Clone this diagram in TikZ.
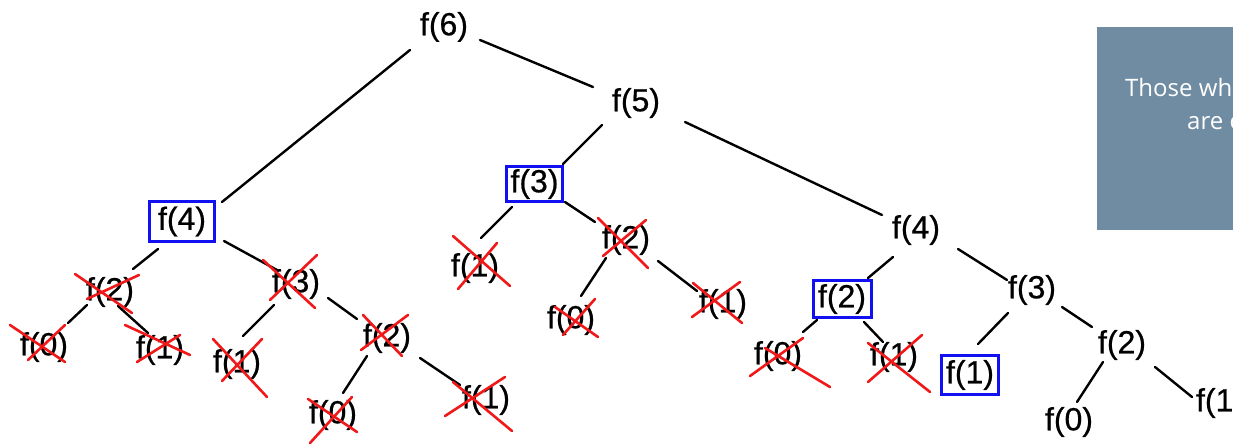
\documentclass[tikz,border=0pt]{standalone}
\usepackage{fontspec}
\setmainfont{Liberation Sans}
\newfontfamily\fnfont{Liberation Sans}[FakeBold=0.6]
\newfontfamily\notefont{Open Sans}
\definecolor{slate}{RGB}{112,140,162}
\definecolor{xred}{RGB}{240,24,24}
\definecolor{bblue}{RGB}{16,16,240}
\newcommand{\drawcross}[9]{%
  \draw[cross] ([shift={(#2,#3)}]#1.center) -- ([shift={(#4,#5)}]#1.center)
               ([shift={(#6,#7)}]#1.center) -- ([shift={(#8,#9)}]#1.center);}
\newcommand{\link}[6]{%
  \draw[edge] ([shift={(#2,#3)}]#1.center) -- ([shift={(#5,#6)}]#4.center);}
\begin{document}
\begin{tikzpicture}[x=1pt,y=-1pt,
  fn/.style={font=\fnfont\fontsize{32}{36}\selectfont, inner sep=0pt},
  boxed/.style={fn, draw=bblue, line width=3pt},
  edge/.style={line width=2.4pt, line cap=round},
  cross/.style={draw=xred, line width=2.6pt, line cap=round},
  notetext/.style={font=\notefont\fontsize{24}{28}\selectfont, text=white, inner sep=0pt, anchor=base west}]
\useasboundingbox (0,0) rectangle (1233,446);
\clip (0,0) rectangle (1233,446);
\fill[white] (0,0) rectangle (1233,446);

% note panel
\node[fill=slate, anchor=north west, minimum width=150pt, minimum height=203pt, inner sep=0pt] (note) at (1097,27) {};
\node[notetext] (l1) at (1125,97) {Those wh};
\node[notetext] (l2) at (1187,130) {are c};

% nodes
\node[fn] (f6) at (444,27) {f(6)};
\node[fn] (f5) at (636,103) {f(5)};
\node[boxed, minimum width=65pt, minimum height=40pt] (f4L) at (182,221.5) {f(4)};
\node[boxed, minimum width=56pt, minimum height=35pt] (f3M) at (534.5,184) {f(3)};
\node[fn] (f4R) at (916,230) {f(4)};
\node[fn] (f2L) at (110,292) {f(2)};
\node[fn] (f3L) at (296,284) {f(3)};
\node[fn] (f0a) at (44,347) {f(0)};
\node[fn] (f1a) at (160,350) {f(1)};
\node[fn] (f1b) at (237,364) {f(1)};
\node[fn] (f2b) at (387,338) {f(2)};
\node[fn] (f0b) at (333,415) {f(0)};
\node[fn] (f1c) at (486,400) {f(1)};
\node[fn] (f1d) at (475,268) {f(1)};
\node[fn] (f2c) at (626,240) {f(2)};
\node[fn] (f0c) at (571,320) {f(0)};
\node[fn] (f1e) at (723,304) {f(1)};
\node[boxed, minimum width=58pt, minimum height=37pt] (f2R) at (842,299) {f(2)};
\node[fn] (f3R) at (1032,290) {f(3)};
\node[fn] (f0f) at (778,356) {f(0)};
\node[fn] (f1f) at (894,357) {f(1)};
\node[boxed, minimum width=57pt, minimum height=39pt] (f1R) at (970,375) {f(1)};
\node[fn] (f2S) at (1122,345) {f(2)};
\node[fn] (f0g) at (1069,422) {f(0)};
\node[fn] (f1g) at (1220,403) {f(1)};

% connectors
\link{f6}{36}{13}{f5}{-43}{-16}
\link{f6}{-34}{23}{f4L}{40}{-19.5}
\link{f5}{-34}{22}{f3M}{28.5}{-20}
\link{f5}{49}{19}{f4R}{-34}{-15}
\link{f4L}{-24}{27.5}{f2L}{23}{-23}
\link{f4L}{42}{19.5}{f3L}{-19}{-14}
\link{f2L}{-23}{13}{f0a}{24}{-24}
\link{f2L}{8}{14}{f1a}{-12}{-17}
\link{f3L}{-22}{21}{f1b}{6}{-28}
\link{f3L}{32}{14}{f2b}{-30}{-19}
\link{f2b}{-20}{18}{f0b}{10}{-22}
\link{f2b}{33}{20}{f1c}{-26}{-15}
\link{f3M}{-22.5}{23}{f1d}{6}{-30}
\link{f3M}{30.5}{18}{f2c}{-31}{-18}
\link{f2c}{-20}{18}{f0c}{10}{-24}
\link{f2c}{32}{21}{f1e}{-26}{-13}
\link{f4R}{-23}{27}{f2R}{26}{-21}
\link{f4R}{42}{19}{f3R}{-25}{-10}
\link{f2R}{-25}{21}{f0f}{25}{-24}
\link{f2R}{22}{23}{f1f}{-11}{-15}
\link{f3R}{-24}{23}{f1R}{8}{-31}
\link{f3R}{30}{17}{f2S}{-30}{-18}
\link{f2S}{-19}{17}{f0g}{8}{-20}
\link{f2S}{33}{22}{f1g}{-28}{-6}

% crosses
\drawcross{f2L}{-35}{-18}{22}{21}{-23}{7}{29}{-17}
\drawcross{f0a}{-34}{-22}{21}{15}{-16}{13}{21}{-22}
\drawcross{f1a}{-35}{-25}{30}{5}{-23}{12}{20}{-15}
\drawcross{f3L}{-33}{-24}{19}{24}{-26}{16}{21}{-29}
\drawcross{f1b}{-24}{-25}{30}{33}{-15}{17}{25}{-25}
\drawcross{f2b}{-24}{-23}{15}{18}{-26}{12}{21}{-23}
\drawcross{f0b}{-25}{-16}{24}{17}{-23}{28}{19}{-18}
\drawcross{f1c}{-33}{-18}{26}{31}{-41}{16}{19}{-23}
\drawcross{f1d}{-22}{-32}{35}{18}{-17}{21}{22}{-25}
\drawcross{f2c}{-28}{-22}{22}{28}{-23}{16}{20}{-20}
\drawcross{f0c}{-16}{-13}{27}{17}{-8}{15}{24}{-21}
\drawcross{f1e}{-30}{-21}{19}{19}{-31}{13}{17}{-22}
\drawcross{f0f}{-13}{-8}{52}{31}{-28}{20}{25}{-18}
\drawcross{f1f}{-26}{-14}{36}{35}{-26}{25}{28}{-22}
\end{tikzpicture}
\end{document}
